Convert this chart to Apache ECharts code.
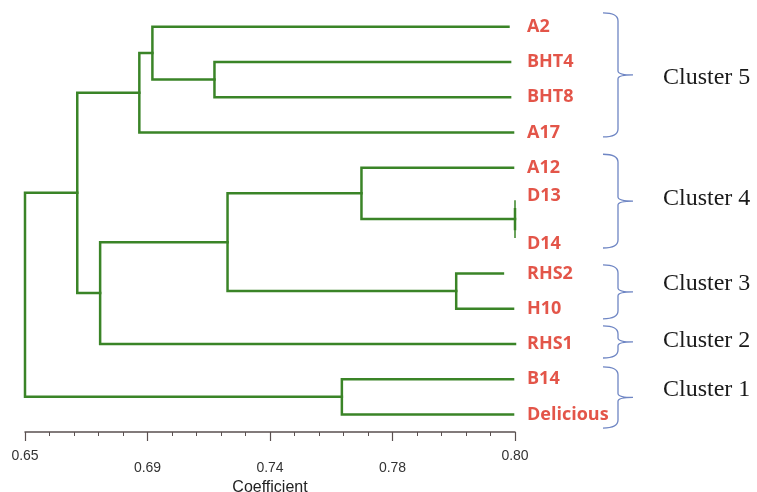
<!DOCTYPE html>
<html>
<head>
<meta charset="utf-8">
<script src="https://cdn.jsdelivr.net/npm/echarts@6/dist/echarts.min.js"></script>
<style>html,body{margin:0;padding:0;background:#fff}#c{width:757px;height:492px}</style>
</head>
<body>
<div id="c"></div>
<script>
// ---- data ----
const tipNames = ['A2','BHT4','BHT8','A17','A12','D13','D14','RHS2','H10','RHS1','B14','Delicious'];
const tipRows  = [0, 1, 2, 3, 4, 5.18, 5.74, 7, 8, 9, 10, 11];
const tipEnds  = [0.798, 0.7985, 0.7985, 0.7994, 0.7994, 0.80, 0.80, 0.7963, 0.7994, 0.80, 0.7994, 0.7994];
const labelRows = [0, 1, 2, 3, 4, 4.8, 6.15, 7, 8, 9, 10, 11];
// merges: new nodes get indices 12, 13, ...
const mergeLeft   = [5, 1, 0, 14, 4, 7, 16, 18, 15, 10, 20];
const mergeRight  = [6, 2, 13, 3, 12, 8, 17, 9, 19, 11, 21];
const mergeHeight = [0.80, 0.708, 0.689, 0.685, 0.753, 0.782, 0.712, 0.673, 0.666, 0.747, 0.650];
const clusterNames  = ['Cluster 5','Cluster 4','Cluster 3','Cluster 2','Cluster 1'];
const clusterTop    = [-0.39, 3.62, 6.76, 8.49, 9.65];
const clusterBottom = [3.13, 6.28, 8.29, 9.40, 11.39];
const clusterTextRow = [1.45, 4.87, 7.3, 8.9, 10.3];
const tickLabels = {0: '0.65', 5: '0.69', 10: '0.74', 15: '0.78', 20: '0.80'};
const axisMin = 0.65, axisStep = 0.0075; // one minor tick

// ---- build segments ----
const toX = c => (c - axisMin) / axisStep;
const nodeX = tipEnds.slice();
const nodeRow = tipRows.slice();
const polylines = [];
for (let i = 0; i < mergeHeight.length; i++) {
  const a = mergeLeft[i], b = mergeRight[i], h = mergeHeight[i];
  polylines.push({coords: [[toX(nodeX[a]), nodeRow[a]], [toX(h), nodeRow[a]], [toX(h), nodeRow[b]], [toX(nodeX[b]), nodeRow[b]]]});
  nodeX.push(h);
  nodeRow.push((nodeRow[a] + nodeRow[b]) / 2);
}
const labelData = tipNames.map((n, i) => ({name: n, value: [toX(0.80), labelRows[i]]}));
const clusterData = clusterNames.map((n, i) => ({name: n, value: [clusterTop[i], clusterBottom[i], clusterTextRow[i]]}));

const chart = echarts.init(document.getElementById('c'), null, {renderer: 'canvas'});
chart.setOption({
  animation: false,
  backgroundColor: '#ffffff',
  grid: {left: 25, right: 242, top: 9, bottom: 60, containLabel: false, outerBoundsMode: 'none'},
  xAxis: {
    type: 'value', min: 0, max: 20, interval: 5, position: 'bottom',
    name: 'Coefficient', nameLocation: 'middle', nameGap: 38,
    nameTextStyle: {fontFamily: 'Liberation Sans', fontSize: 16, color: '#222'},
    axisLine: {show: true, onZero: false, lineStyle: {color: '#5a5050', width: 1.5}},
    axisTick: {show: true, length: 9, lineStyle: {color: '#5a5050', width: 1.2}},
    minorTick: {show: true, splitNumber: 5, length: 4, lineStyle: {color: '#5a5050', width: 1}},
    splitLine: {show: false},
    axisLabel: {
      margin: 13,
      fontFamily: 'Liberation Sans', fontSize: 14, color: '#333',
      formatter: v => {
        const k = Math.round(v);
        if (!tickLabels[k]) return '';
        return (k === 0 || k === 20) ? '{e|' + tickLabels[k] + '}' : '{m|' + tickLabels[k] + '}';
      },
      rich: {
        e: {fontFamily: 'Liberation Sans', fontSize: 14, color: '#333', padding: [4, 0, 12, 0]},
        m: {fontFamily: 'Liberation Sans', fontSize: 14, color: '#333', padding: [16, 0, 0, 0]}
      }
    }
  },
  yAxis: {
    type: 'value', min: -0.5, max: 11.5, inverse: true, show: false
  },
  series: [
    {
      type: 'lines', coordinateSystem: 'cartesian2d', polyline: true,
      data: polylines,
      lineStyle: {color: '#3a8427', width: 2.5, opacity: 1, cap: 'square', join: 'miter'},
      silent: true, z: 3
    },
    {
      // end bar for D13/D14 merge at 0.80
      type: 'custom', coordinateSystem: 'cartesian2d', clip: false, silent: true,
      data: [[toX(mergeHeight[0]), tipRows[5], tipRows[6]]],
      renderItem: (params, api) => {
        const p1 = api.coord([api.value(0), api.value(1)]);
        const p2 = api.coord([api.value(0), api.value(2)]);
        return {type: 'line', shape: {x1: p1[0], y1: p1[1] - 9, x2: p2[0], y2: p2[1] + 9},
          style: {stroke: '#3a8427', lineWidth: 1.5}};
      }, z: 3
    },
    {
      type: 'scatter', data: labelData, symbolSize: 0, silent: true,
      label: {show: true, position: 'right', distance: 12, formatter: p => p.name,
        color: '#dc2a1c', fontWeight: 'bold', fontFamily: 'Open Sans', fontSize: 18},
      z: 4
    },
    {
      type: 'custom', coordinateSystem: 'cartesian2d', clip: false, silent: true,
      data: clusterData,
      renderItem: (params, api) => {
        const top = api.coord([20, api.value(0)]);
        const bot = api.coord([20, api.value(1)]);
        const txt = api.coord([20, api.value(2)]);
        const x0 = top[0] + 88, x1 = x0 + 15, x2 = x1 + 15;
        const yt = top[1], yb = bot[1], ym = (yt + yb) / 2;
        const r = Math.min(8, (yb - yt) / 4);
        const path = `M${x0} ${yt} Q${x1} ${yt} ${x1} ${yt + r} L${x1} ${ym - 4} Q${x1} ${ym} ${x2} ${ym} Q${x1} ${ym} ${x1} ${ym + 4} L${x1} ${yb - r} Q${x1} ${yb} ${x0} ${yb}`;
        return {type: 'group', children: [
          {type: 'path', shape: {pathData: path}, style: {stroke: '#6f86c4', lineWidth: 1.3, fill: null}},
          {type: 'text', x: top[0] + 148, y: txt[1], style: {text: clusterNames[params.dataIndex],
            font: '24px "Liberation Serif"', fill: '#1a1a1a', textAlign: 'left', textVerticalAlign: 'middle'}}
        ]};
      }, z: 4
    }
  ]
});
</script>
</body>
</html>
